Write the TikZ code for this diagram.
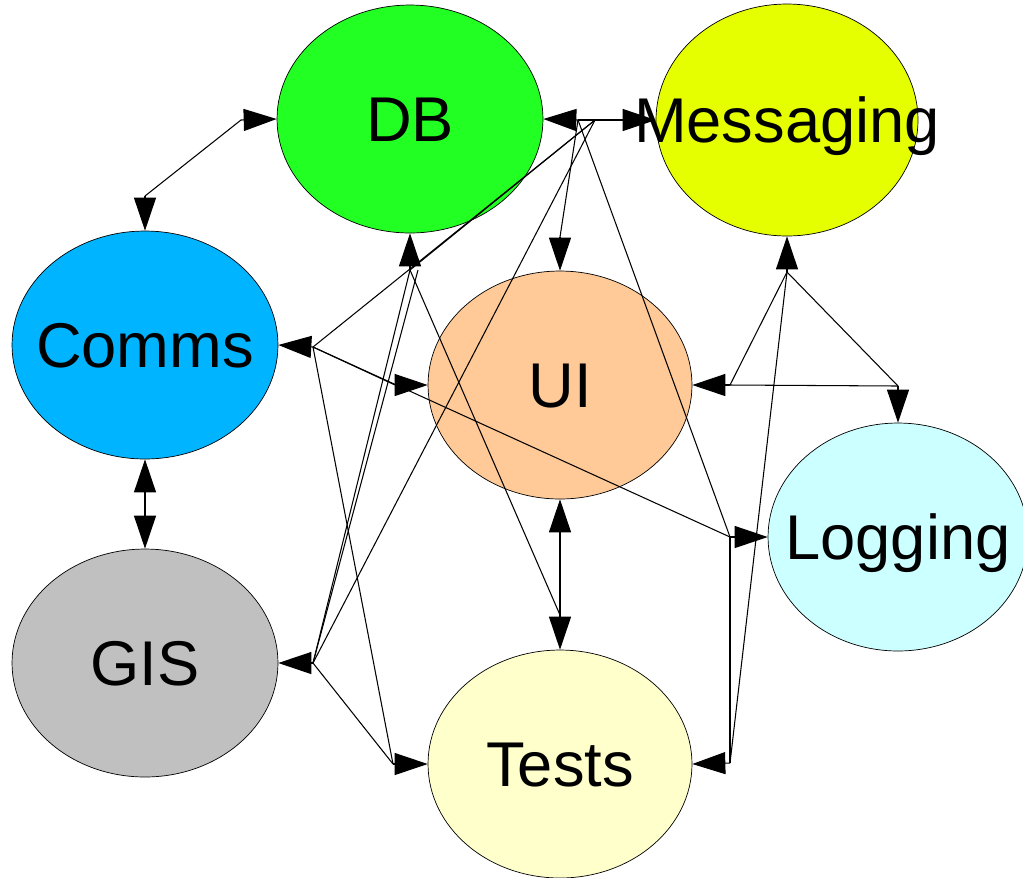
\documentclass[tikz,border=0pt]{standalone}
\usepackage{fontspec}
\setmainfont{Liberation Sans}
\usetikzlibrary{shapes.geometric,arrows.meta}
\definecolor{dbgreen}{RGB}{34,255,34}
\definecolor{msgyellow}{RGB}{230,255,0}
\definecolor{commsblue}{RGB}{0,180,255}
\definecolor{uipeach}{RGB}{255,202,152}
\definecolor{logcyan}{RGB}{204,255,255}
\definecolor{gisgrey}{RGB}{192,192,192}
\definecolor{testsyellow}{RGB}{255,255,204}
\newcommand{\lbl}[1]{\makebox[0pt]{#1}}

\begin{document}
\begin{tikzpicture}[x=0.02cm,y=-0.02cm]
\tikzset{unit/.style = {shape=ellipse,draw,inner sep=0pt,minimum width=5.32cm,minimum height=4.56cm,font=\fontsize{36}{40}\selectfont,text height=25.8pt,text depth=0pt}}
\tikzset{port/.style = {line width=0.6pt,-{Triangle[length=0.66cm,width=0.44cm]}}}
\tikzset{wire/.style = {line width=0.6pt}}
\useasboundingbox (0,0) rectangle (1023,877);
% units
\node[unit,fill=dbgreen] (db) at (410,119) {\lbl{DB}};
\node[unit,fill=msgyellow,minimum width=5.24cm,minimum height=4.64cm] (msg) at (787,120) {\lbl{Messaging}};
\node[unit,fill=commsblue] (comms) at (145,345) {\lbl{Comms}};
\node[unit,fill=uipeach,minimum width=5.28cm] (ui) at (560,385) {\lbl{UI}};
\node[unit,fill=logcyan,minimum width=5.2cm] (log) at (898,537) {\lbl{Logging}};
\node[unit,fill=gisgrey] (gis) at (145,663) {\lbl{GIS}};
\node[unit,fill=testsyellow,minimum width=5.28cm] (tests) at (560,764) {\lbl{Tests}};
% ports
\coordinate (db-l) at (241,120);
\coordinate (db-r) at (578,120);
\coordinate (db-b) at (410,270);
\coordinate (db-b2) at (418,270);
\coordinate (msg-l) at (595,120);
\coordinate (msg-b) at (787,272);
\coordinate (comms-t) at (145,196);
\coordinate (comms-r) at (313,347);
\coordinate (comms-b) at (145,494);
\coordinate (gis-t) at (145,517);
\coordinate (gis-r) at (313,663);
\coordinate (ui-t) at (560,237);
\coordinate (ui-l) at (395,385);
\coordinate (ui-r) at (730,385);
\coordinate (ui-b) at (560,533);
\coordinate (log-t) at (898,386);
\coordinate (log-l) at (730,537);
\coordinate (tests-t) at (560,615);
\coordinate (tests-l) at (393,764);
\coordinate (tests-r) at (730,763);
\draw[port] (db-l) -- (db.west);
\draw[port] (db-r) -- (db.east);
\draw[port] (db-b) -- (db.south);
\draw[port] (msg-l) -- (msg.west);
\draw[port] (msg-b) -- (msg.south);
\draw[port] (comms-t) -- (comms.north);
\draw[port] (comms-r) -- (comms.east);
\draw[port] (comms-b) -- (comms.south);
\draw[port] (gis-t) -- (gis.north);
\draw[port] (gis-r) -- (gis.east);
\draw[port] (ui-t) -- (ui.north);
\draw[port] (ui-l) -- (ui.west);
\draw[port] (ui-r) -- (ui.east);
\draw[port] (ui-b) -- (ui.south);
\draw[port] (log-t) -- (log.north);
\draw[port] (log-l) -- (log.west);
\draw[port] (tests-t) -- (tests.north);
\draw[port] (tests-l) -- (tests.west);
\draw[port] (tests-r) -- (tests.east);
% links
\path[wire]
(db-l) edge (comms-t)
(comms-b) edge (gis-t)
(ui-b) edge (tests-t)
(db-r) edge (msg-l)
(db-r) edge (ui-t)
(db-r) edge (log-l)
(msg-l) edge (comms-r)
(msg-l) edge (gis-r)
(msg-l) edge (db-b)
(db-b) edge (gis-r)
(db-b2) edge (gis-r)
(db-b) edge (tests-t)
(comms-r) edge (ui-l)
(comms-r) edge (log-l)
(comms-r) edge (tests-l)
(gis-r) edge (tests-l)
(msg-b) edge (ui-r)
(msg-b) edge (log-t)
(ui-r) edge (log-t)
(msg-b) edge (tests-r)
(log-l) edge (tests-r);
\end{tikzpicture}
\end{document}
